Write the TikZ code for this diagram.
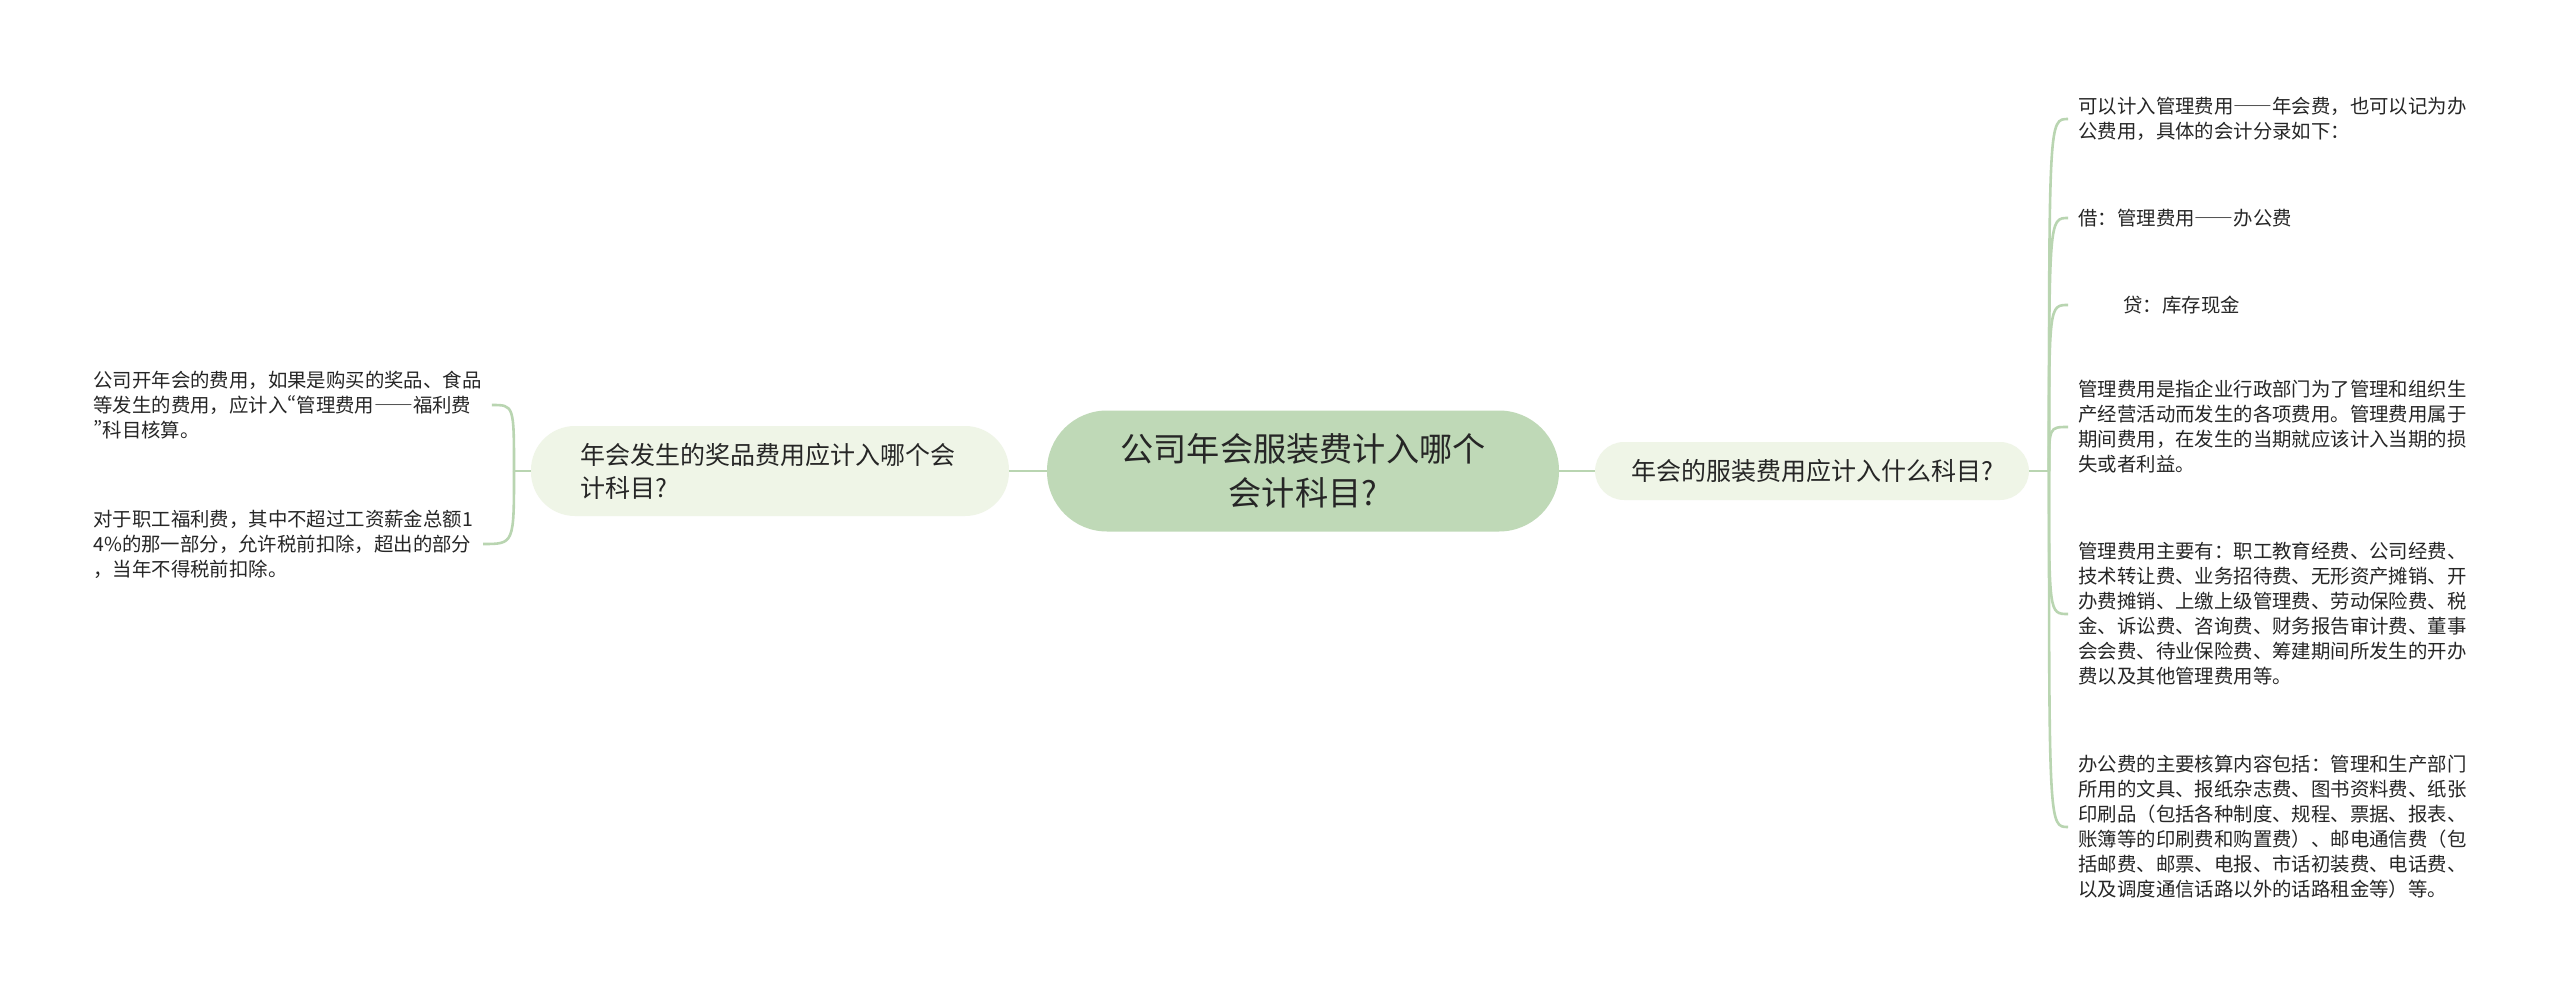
\documentclass[tikz,border=0pt]{standalone}
\usepackage{fontspec}
\setmainfont{Noto Sans CJK SC}
\definecolor{rootgreen}{HTML}{BFD9B7}
\definecolor{subgreen}{HTML}{EFF5E7}
\definecolor{linegreen}{HTML}{B9D5B1}
\definecolor{txt}{HTML}{262626}
\newcommand{\cjkdash}{{\addfontfeature{RawFeature=+fwid}——}}
\newcommand{\pq}[1]{{\addfontfeature{RawFeature=+pwid}#1}}

\begin{document}
\begin{tikzpicture}[x=0.5pt,y=-0.5pt]
		\tikzstyle{root} = [rectangle,fill=rootgreen,rounded corners=30pt,minimum width=256pt,minimum height=60.5pt,align=center,text=txt,font=\fontsize{16.6}{22}\selectfont]
		\tikzstyle{sub}  = [rectangle,fill=subgreen,text=txt,font=\fontsize{12.5}{16.5}\selectfont]
		\tikzstyle{leaf} = [inner sep=0pt,align=left,anchor=west,text=txt,font=\fontsize{9.7}{12.5}\selectfont]
		\tikzstyle{link} = [draw=linegreen,line width=1.3pt]
		
		\useasboundingbox (0,0) rectangle (2560,995);
		\fill[white] (0,0) rectangle (2560,995);
		
		\node[root] (root) at (1303,471) {公司年会服装费计入哪个\\会计科目?};
		\node[sub,rounded corners=22pt,text width=190pt,inner xsep=24.5pt,minimum height=45pt,align=left] (prize) at (770,471) {年会发生的奖品费用应计入哪个会\\计科目?};
		\node[sub,rounded corners=14.5pt,inner xsep=18pt,minimum height=29pt] (dress) at (1812,471) {年会的服装费用应计入什么科目?};
		
		\node[leaf] (r1) at (2078,119) {可以计入管理费用\cjkdash 年会费，也可以记为办\\公费用，具体的会计分录如下：};
		\node[leaf] (r2) at (2078,218) {借：管理费用\cjkdash 办公费};
		\node[leaf] (r3) at (2078,305) {\hspace*{22.5pt}贷：库存现金};
		\node[leaf] (r4) at (2078,427) {管理费用是指企业行政部门为了管理和组织生\\产经营活动而发生的各项费用。管理费用属于\\期间费用，在发生的当期就应该计入当期的损\\失或者利益。};
		\node[leaf] (r5) at (2078,614) {管理费用主要有：职工教育经费、公司经费、\\技术转让费、业务招待费、无形资产摊销、开\\办费摊销、上缴上级管理费、劳动保险费、税\\金、诉讼费、咨询费、财务报告审计费、董事\\会会费、待业保险费、筹建期间所发生的开办\\费以及其他管理费用等。};
		\node[leaf] (r6) at (2078,827) {办公费的主要核算内容包括：管理和生产部门\\所用的文具、报纸杂志费、图书资料费、纸张\\印刷品（包括各种制度、规程、票据、报表、\\账簿等的印刷费和购置费）、邮电通信费（包\\括邮费、邮票、电报、市话初装费、电话费、\\以及调度通信话路以外的话路租金等）等。};
		
		\node[leaf] (l1) at (93,405) {公司开年会的费用，如果是购买的奖品、食品\\等发生的费用，应计入\pq{“}管理费用\cjkdash 福利费\\\pq{”}科目核算。};
		\node[leaf] (l2) at (93,544) {对于职工福利费，其中不超过工资薪金总额1\\4\%的那一部分，允许税前扣除，超出的部分\\，当年不得税前扣除。};
		
		\coordinate (rj) at (2049,471);
		\coordinate (lj) at (514,471);
		
		\path[link] (prize) edge (root);
		\path[link] (root)  edge (dress);
		\draw[link] (dress.east) -- (rj);
		\draw[link] (prize.west) -- (lj);
		\foreach \n in {r1,r2,r3,r4,r5,r6}
			\draw[link] (rj) .. controls (rj |- \n.west) .. ([xshift=-5pt]\n.west);
		\foreach \n in {l1,l2}
			\draw[link] (lj) .. controls (lj |- \n.east) .. ([xshift=5pt]\n.east);
	\end{tikzpicture}
\end{document}
